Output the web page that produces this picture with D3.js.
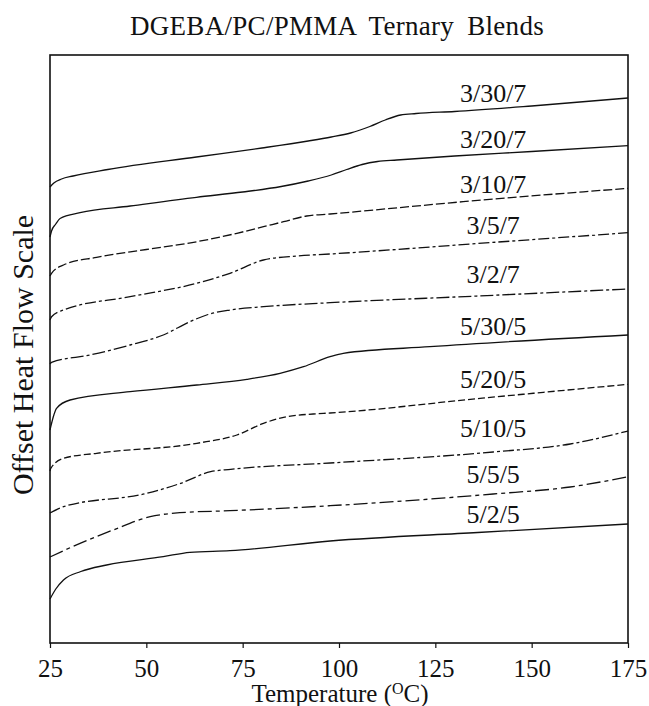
<!DOCTYPE html>
<html><head><meta charset="utf-8">
<script src="https://cdn.jsdelivr.net/npm/d3@7"></script>
<style>
body{margin:0;background:#fff}
svg{display:block}
text{font-family:"Liberation Serif","Times New Roman",serif;fill:#111}
</style>
</head><body><svg id="c" width="649" height="706"></svg>
<script>
// ---- data (temperature in °C, offset heat flow in arbitrary units) ----
const tempTicks = [25, 50, 75, 100, 125, 150, 175];
const blendNames = ["3/30/7","3/20/7","3/10/7","3/5/7","3/2/7","5/30/5","5/20/5","5/10/5","5/5/5","5/2/5"];

const c3_30_7 = [[25,45.6],[26,46.0],[28,46.4],[31,46.7],[40,47.35],[63,48.6],[80,49.5],[92,50.2],[98,50.6],[103,51.0],[108,51.65],[112,52.3],[116,52.8],[120,52.95],[130,53.15],[150,53.7],[175,54.5]];
const c3_20_7 = [[25,40.6],[25.4,41.2],[26.5,41.9],[27.6,42.45],[32.8,43.03],[45.8,43.7],[63,44.57],[75,45.1],[85,45.65],[92,46.2],[98,46.8],[102,47.35],[106,47.85],[110,48.15],[115,48.3],[130,48.7],[150,49.15],[175,49.73]];
const c3_10_7 = [[25,36.7],[25.4,36.97],[28.5,37.8],[37.1,38.57],[50,39.35],[63.1,40.13],[73.5,40.97],[80.4,41.63],[85.6,42.13],[91.6,42.7],[97.7,42.9],[132.2,44.13],[175,45.47]];
const c3_5_7  = [[25,32.3],[25.4,32.63],[28.5,33.3],[45.8,34.63],[63.1,35.97],[71.7,36.97],[80.4,38.3],[89,38.7],[97.7,38.9],[136,39.95],[175,41.03]];
const c3_2_7  = [[25,27.9],[25.4,28.07],[35.4,28.8],[45.8,29.8],[54.4,30.8],[61.3,32.13],[66,32.85],[71.7,33.3],[80.4,33.63],[97.7,34.03],[136,34.7],[175,35.4]];
const c5_30_5 = [[25,21.3],[25.2,21.63],[26,22.8],[26.7,23.47],[30.2,24.3],[45.8,25.13],[63.1,25.8],[76.1,26.37],[84.7,26.97],[90.8,27.63],[97.7,28.63],[101.1,28.97],[123.6,29.63],[175,30.8]];
const c5_20_5 = [[25,17.2],[25.2,17.47],[28.5,18.47],[37.1,18.97],[63.1,19.97],[73.5,20.8],[80.4,21.97],[86.4,22.63],[93.3,22.9],[97.7,23.0],[136,24.44],[175,25.87]];
const c5_10_5 = [[25,13.0],[28.5,13.63],[50.2,14.97],[58.9,15.97],[66.7,17.13],[71.9,17.37],[97.7,18.0],[140,19.1],[160,19.9],[175,21.2]];
const c5_5_5  = [[25,8.6],[32.8,9.97],[41.4,11.3],[51,12.63],[58.7,13.03],[71.7,13.23],[97.7,13.73],[140,14.9],[160,15.6],[175,16.63]];
const c5_2_5  = [[25,4.4],[26.5,5.4],[28.5,6.3],[33,7.15],[39.7,7.8],[54.4,8.63],[61.3,9.07],[71.7,9.23],[97.7,10.2],[136,11.05],[175,11.9]];

const curves = [c3_30_7, c3_20_7, c3_10_7, c3_5_7, c3_2_7, c5_30_5, c5_20_5, c5_10_5, c5_5_5, c5_2_5];

// label anchor (data coordinates)
const labelTemp = 140;
const labelValues = [54.13, 49.5, 45.0, 40.9, 36.0, 30.8, 25.5, 20.6, 16.0, 12.0];

// ---- styles ----
const dashes = [null, null, "9,3", "11,3,3,3", "13,3,3,3", null, "7,3", "11,3,3,3", "14,4,4,4", null];

const svg = d3.select("#c");
const L = 50, R = 628, T = 55, B = 643;
const x = d3.scaleLinear().domain([25, 175]).range([L, R]);
const y = d3.scaleLinear().domain([0, 58.8]).range([B, T]);

// title
svg.append("text").attr("x", 337).attr("y", 35).attr("text-anchor", "middle")
  .style("font-size", "27px").style("word-spacing", "6px").style("letter-spacing", "0.3px")
  .text("DGEBA/PC/PMMA Ternary Blends");

// frame
svg.append("rect").attr("x", L).attr("y", T).attr("width", R - L).attr("height", B - T)
  .attr("fill", "none").attr("stroke", "#111").attr("stroke-width", 1.6);

// x axis
const ax = svg.append("g").attr("transform", `translate(0,${B})`)
  .call(d3.axisBottom(x).tickValues(tempTicks).tickSize(5).tickPadding(11).tickFormat(d3.format("d")));
ax.select(".domain").remove();
ax.selectAll("line").attr("stroke", "#111").attr("stroke-width", 1.2);
ax.selectAll("text").style("font-size", "25px").attr("fill", "#111")
  .style("font-family", "'Liberation Serif','Times New Roman',serif");

// x label
const xl = svg.append("text").attr("x", 340).attr("y", 702).attr("text-anchor", "middle").style("font-size", "25px");
xl.append("tspan").text("Temperature (");
xl.append("tspan").style("font-size", "16px").attr("dy", -8).text("O");
xl.append("tspan").attr("dy", 8).text("C)");

// y label
svg.append("text").attr("transform", "translate(33,355) rotate(-90)").attr("text-anchor", "middle")
  .style("font-size", "30px").text("Offset Heat Flow Scale");

// curves
const line = d3.line().x(d => x(d[0])).y(d => y(d[1])).curve(d3.curveMonotoneX);
svg.append("g").selectAll("path").data(curves).join("path")
  .attr("d", line).attr("fill", "none").attr("stroke", "#111").attr("stroke-width", 1.3)
  .attr("stroke-dasharray", (d, i) => dashes[i]);

// labels
svg.append("g").selectAll("text").data(blendNames).join("text")
  .attr("x", x(labelTemp)).attr("y", (d, i) => y(labelValues[i]))
  .attr("text-anchor", "middle").style("font-size", "26px").text(d => d);
</script></body></html>
